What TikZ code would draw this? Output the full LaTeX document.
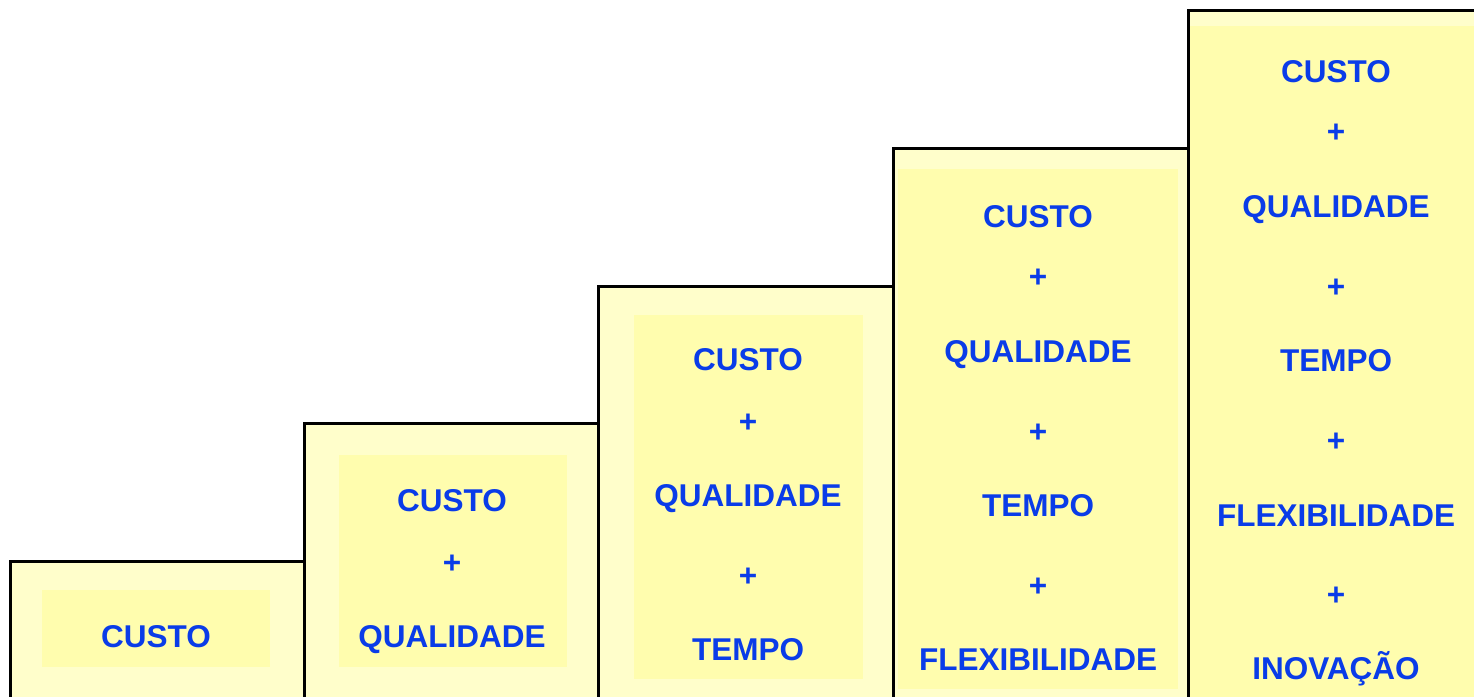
\documentclass[tikz,border=0pt]{standalone}
\usepackage{fontspec}
\setmainfont{Liberation Sans}

\definecolor{stepfill}{HTML}{FFFECB}
\definecolor{innerfill}{HTML}{FFFDAE}
\definecolor{wordblue}{HTML}{0A3CE8}

\tikzset{
  stepbox/.style={fill=stepfill},
  stepedge/.style={draw=black, line width=3pt},
  innerbox/.style={fill=innerfill},
  word/.style={text=wordblue, font=\fontsize{31.5}{36}\selectfont\bfseries,
    anchor=base, inner sep=0pt},
}

\begin{document}
\begin{tikzpicture}[x=1pt, y=-1pt]
  \useasboundingbox (0,0) rectangle (1474,696);
  \clip (0,0) rectangle (1474,696);
  \fill[white] (0,0) rectangle (1474,696);

  % steps
  \fill[stepbox] (10,561) rectangle (304,720);
  \fill[stepbox] (304,423) rectangle (598,720);
  \fill[stepbox] (598,286) rectangle (893,720);
  \fill[stepbox] (893,148) rectangle (1188,720);
  \fill[stepbox] (1188,10) rectangle (1484,720);

  \fill[innerbox] (42,590) rectangle (270,667);
  \fill[innerbox] (339,455) rectangle (567,667);
  \fill[innerbox] (634,315) rectangle (863,679);
  \fill[innerbox] (898,169) rectangle (1178,689);
  \fill[innerbox] (1190,26) rectangle (1484,720);

  \draw[stepedge] (10,720) -- (10,561) -- (304,561) -- (304,720);
  \draw[stepedge] (304,561) -- (304,423) -- (598,423) -- (598,720);
  \draw[stepedge] (598,423) -- (598,286) -- (893,286) -- (893,720);
  \draw[stepedge] (893,286) -- (893,148) -- (1188,148) -- (1188,720);
  \draw[stepedge] (1188,148) -- (1188,10) -- (1484,10) -- (1484,720);

  % step 1
  \node[word] (s1a) at (156,647.5) {CUSTO};

  % step 2
  \node[word] (s2a) at (452,511.5) {CUSTO};
  \node[word] (s2b) at (452,573.5) {+};
  \node[word] (s2c) at (452,647.5) {QUALIDADE};

  % step 3
  \node[word] (s3a) at (748,370.5) {CUSTO};
  \node[word] (s3b) at (748,432.5) {+};
  \node[word] (s3c) at (748,506.5) {QUALIDADE};
  \node[word] (s3d) at (748,586.5) {+};
  \node[word] (s3e) at (748,660.5) {TEMPO};

  % step 4
  \node[word] (s4a) at (1038,227.5) {CUSTO};
  \node[word] (s4b) at (1038,287.5) {+};
  \node[word] (s4c) at (1038,362.5) {QUALIDADE};
  \node[word] (s4d) at (1038,442.5) {+};
  \node[word] (s4e) at (1038,516.5) {TEMPO};
  \node[word] (s4f) at (1038,596.5) {+};
  \node[word] (s4g) at (1038,670.5) {FLEXIBILIDADE};

  % step 5
  \node[word] (s5a) at (1336,82.5) {CUSTO};
  \node[word] (s5b) at (1336,142.5) {+};
  \node[word] (s5c) at (1336,217.5) {QUALIDADE};
  \node[word] (s5d) at (1336,297.5) {+};
  \node[word] (s5e) at (1336,371.5) {TEMPO};
  \node[word] (s5f) at (1336,451.5) {+};
  \node[word] (s5g) at (1336,526.5) {FLEXIBILIDADE};
  \node[word] (s5h) at (1336,605.5) {+};
  \node[word] (s5i) at (1336,679.5) {INOVAÇÃO};
\end{tikzpicture}
\end{document}
